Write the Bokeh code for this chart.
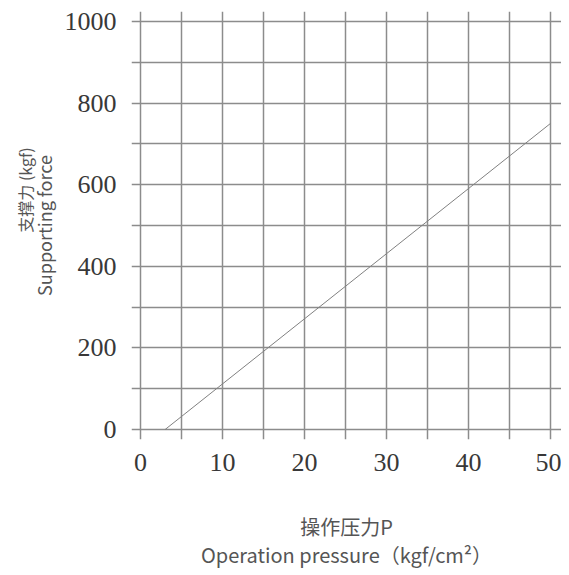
from bokeh.plotting import figure
from bokeh.models import Range1d, FixedTicker, LinearAxis, Title
from bokeh.embed import file_html
from bokeh.resources import INLINE

# data
pressure = [3, 50]
force = [0, 750]
x_ticks = [0, 10, 20, 30, 40, 50]
y_ticks = [0, 200, 400, 600, 800, 1000]
x_grid = list(range(0, 51, 5))
y_grid = list(range(0, 1001, 100))
y_title_cn = "支撑力 (kgf)"
y_title_en = "Supporting force"
x_title_cn = "操作压力P"
x_title_en = "Operation pressure（kgf/cm²）"

LABEL_FONT = "Noto Sans CJK SC"
LABEL_COLOR = "#555555"

p = figure(width=561, height=573, output_backend="svg", toolbar_location=None,
           x_range=Range1d(-1.1, 51.35), y_range=Range1d(-24.5, 1024.5),
           min_border_left=131, min_border_right=0, min_border_top=11,
           min_border_bottom=134)
p.outline_line_color = None
p.background_fill_color = "white"

for g, t in ((p.xgrid, x_grid), (p.ygrid, y_grid)):
    g.ticker = FixedTicker(ticks=t)
    g.grid_line_color = "#8c8c8c"
    g.grid_line_width = 1.5

for ax, t in ((p.xaxis, x_ticks), (p.yaxis, y_ticks)):
    ax.ticker = FixedTicker(ticks=t)
    ax.axis_line_color = None
    ax.major_tick_line_color = None
    ax.minor_tick_line_color = None
    ax.major_tick_out = 0
    ax.major_tick_in = 0
    ax.minor_tick_out = 0
    ax.major_label_text_font = "Liberation Serif"
    ax.major_label_text_font_size = "26px"
    ax.major_label_text_color = "#383838"
    ax.axis_label_text_font = LABEL_FONT
    ax.axis_label_text_font_style = "normal"
    ax.axis_label_text_color = LABEL_COLOR
p.xaxis.major_label_standoff = 14
p.yaxis.major_label_standoff = 15

# x titles: Chinese on the main axis, English on an extra label-only axis
p.xaxis.axis_label = x_title_cn
p.xaxis.axis_label_text_font_size = "20px"
p.xaxis.axis_label_standoff = 38

en_axis = LinearAxis(ticker=FixedTicker(ticks=[]), axis_line_color=None,
                     major_tick_line_color=None, minor_tick_line_color=None,
                     major_tick_out=0, major_tick_in=0, minor_tick_out=0,
                     axis_label=x_title_en, axis_label_standoff=-4,
                     axis_label_text_font=LABEL_FONT,
                     axis_label_text_font_style="normal",
                     axis_label_text_font_size="20px",
                     axis_label_text_color=LABEL_COLOR)
p.add_layout(en_axis, "below")

# y titles
p.yaxis.axis_label = y_title_en
p.yaxis.axis_label_text_font_size = "18px"
p.yaxis.axis_label_standoff = 5

p.add_layout(Title(text=y_title_cn, align="right", offset=135, standoff=-18,
                   vertical_align="bottom", text_font=LABEL_FONT,
                   text_font_style="normal", text_font_size="16px",
                   text_color=LABEL_COLOR), "left")

p.line(pressure, force, line_color="#808080", line_width=1)

open("out.html", "w").write(file_html(p, INLINE))
